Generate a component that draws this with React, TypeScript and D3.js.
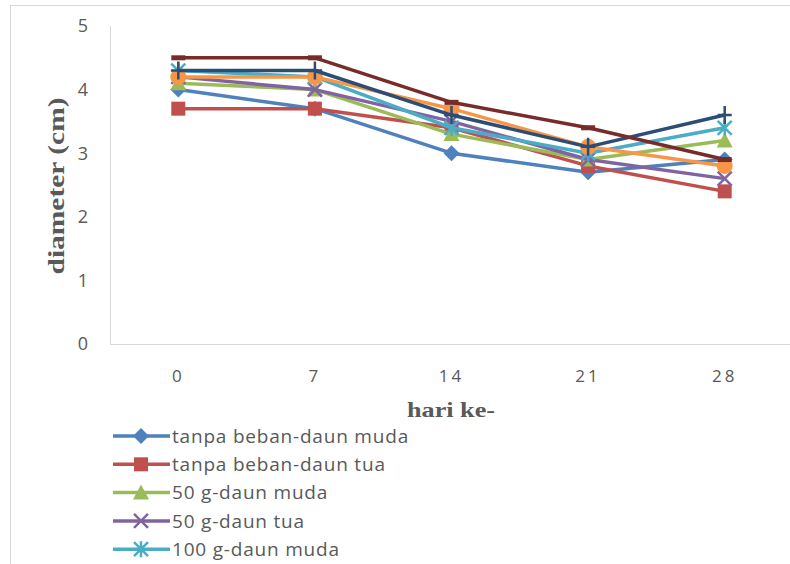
import React from "react";
import * as d3 from "d3";

const categories = ["0", "7", "14", "21", "28"];
const seriesNames = [
  "tanpa beban-daun muda",
  "tanpa beban-daun tua",
  "50 g-daun muda",
  "50 g-daun tua",
  "100 g-daun muda",
  "100 g-daun tua",
  "150 g-daun muda",
  "150 g-daun tua",
];
const s1 = [4.0, 3.7, 3.0, 2.7, 2.9];
const s2 = [3.7, 3.7, 3.4, 2.8, 2.4];
const s3 = [4.1, 4.0, 3.3, 2.9, 3.2];
const s4 = [4.2, 4.0, 3.5, 2.9, 2.6];
const s5 = [4.3, 4.2, 3.4, 3.0, 3.4];
const s6 = [4.2, 4.2, 3.7, 3.1, 2.8];
const s7 = [4.3, 4.3, 3.6, 3.1, 3.6];
const s8 = [4.5, 4.5, 3.8, 3.4, 2.9];
const seriesValues = [s1, s2, s3, s4, s5, s6, s7, s8];
const colors = ["#4F81BD", "#C0504D", "#9BBB59", "#8064A2", "#4BACC6", "#F79646", "#2C4D75", "#772C2A"];
const markers = ["diamond", "square", "triangle", "x", "star", "circle", "plus", "dash"];
const yTicks = [0, 1, 2, 3, 4, 5];

function Marker({ type, x, y, color }: { type: string; x: number; y: number; color: string }) {
  const s = 7;
  switch (type) {
    case "diamond":
      return <path d={`M${x},${y - s - 1}L${x + s + 1},${y}L${x},${y + s + 1}L${x - s - 1},${y}Z`} fill={color} />;
    case "square":
      return <rect x={x - s} y={y - s} width={2 * s} height={2 * s} fill={color} />;
    case "triangle":
      return <path d={`M${x},${y - s - 1}L${x + s + 1},${y + s}L${x - s - 1},${y + s}Z`} fill={color} />;
    case "x":
      return (
        <path d={`M${x - s},${y - s}L${x + s},${y + s}M${x - s},${y + s}L${x + s},${y - s}`} stroke={color} strokeWidth={2.5} />
      );
    case "star":
      return (
        <path
          d={`M${x - s},${y - s}L${x + s},${y + s}M${x - s},${y + s}L${x + s},${y - s}M${x},${y - s - 1}L${x},${y + s + 1}`}
          stroke={color}
          strokeWidth={2.5}
        />
      );
    case "circle":
      return <circle cx={x} cy={y} r={s + 1} fill={color} />;
    case "plus":
      return <path d={`M${x - s},${y}L${x + s},${y}M${x},${y - s - 2}L${x},${y + s + 2}`} stroke={color} strokeWidth={2.5} />;
    case "dash":
      return <rect x={x - s} y={y - 2.5} width={2 * s} height={5} fill={color} />;
  }
  return null;
}

export default function App() {
  const W = 790;
  const H = 564;
  const x = d3.scalePoint<string>().domain(categories).range([110, 793]).padding(0.5);
  const y = d3.scaleLinear().domain([0, 5]).range([344, 26]);
  const line = d3
    .line<number>()
    .x((_, i) => x(categories[i]) as number)
    .y((d) => y(d));
  const tickFont = "Open Sans, Noto Sans, sans-serif";
  const serif = "Liberation Serif, Times New Roman, serif";
  const legendItems = seriesNames
    .map((name, si) => ({ name, si, ly: 436 + si * 28.3 }))
    .filter((d) => d.ly + 10 < H);
  return (
    <svg width={W} height={H} style={{ position: "absolute", left: 0, top: 0 }}>
      <rect x={0} y={0} width={W} height={H} fill="#fff" />
      <rect x={10.5} y={5.5} width={W + 20} height={H + 20} fill="none" stroke="#d9d9d9" />
      <line x1={110.5} y1={26} x2={110.5} y2={344} stroke="#d9d9d9" />
      <line x1={110} y1={344.5} x2={W} y2={344.5} stroke="#d9d9d9" />
      {yTicks.map((t) => (
        <text key={t} x={88} y={y(t)} dy="0.35em" textAnchor="end" fontFamily={tickFont} fontSize={18} fill="#595959">
          {t}
        </text>
      ))}
      {categories.map((c) => (
        <text key={c} x={x(c)} y={376} dy="0.35em" textAnchor="middle" fontFamily={tickFont} fontSize={17} fill="#595959" letterSpacing={3}>
          {c}
        </text>
      ))}
      <text
        transform={`translate(64,186) rotate(-90)`}
        textAnchor="middle"
        fontFamily={serif}
        fontWeight="bold"
        fontSize={23}
        fill="#595959"
        textLength={177}
        lengthAdjust="spacingAndGlyphs"
      >
        diameter (cm)
      </text>
      <text
        x={451}
        y={417}
        textAnchor="middle"
        fontFamily={serif}
        fontWeight="bold"
        fontSize={22}
        fill="#595959"
        textLength={88}
        lengthAdjust="spacingAndGlyphs"
      >
        hari ke-
      </text>
      {seriesValues.map((vals, si) => (
        <g key={si}>
          <path d={line(vals) as string} fill="none" stroke={colors[si]} strokeWidth={3.5} strokeLinejoin="round" />
          {vals.map((v, i) => (
            <Marker key={i} type={markers[si]} x={x(categories[i]) as number} y={y(v)} color={colors[si]} />
          ))}
        </g>
      ))}
      {legendItems.map(({ name, si, ly }) => (
        <g key={name}>
          <line x1={113} x2={170} y1={ly} y2={ly} stroke={colors[si]} strokeWidth={3.5} />
          <Marker type={markers[si]} x={141} y={ly} color={colors[si]} />
          <text x={172} y={ly} dy="0.35em" fontFamily={tickFont} fontSize={19} letterSpacing={0.8} fill="#595959">
            {name}
          </text>
        </g>
      ))}
    </svg>
  );
}
